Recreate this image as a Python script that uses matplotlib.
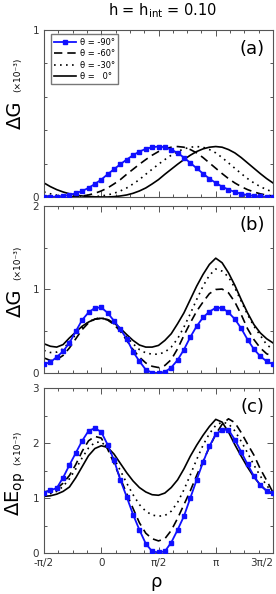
import numpy as np
import matplotlib
matplotlib.use("Agg")
import matplotlib.pyplot as plt
from matplotlib.ticker import FixedLocator, MultipleLocator

# rho grid, 10 degree steps from -pi/2 to 3pi/2
rho_deg = np.arange(-90, 271, 10)
rho = np.deg2rad(rho_deg)

xtick_pos = [-np.pi / 2, 0, np.pi / 2, np.pi, 3 * np.pi / 2]
xtick_labels = ["-π/2", "0", "π/2", "π", "3π/2"]

theta_labels = ["θ = -90°", "θ = -60°", "θ = -30°", "θ =   0°"]

# (a) dG, x10^-3
a_m90 = [0.0, 0.0, 0.002, 0.006, 0.012, 0.022, 0.036, 0.054, 0.078, 0.104, 0.136, 0.166, 0.196,
         0.224, 0.25, 0.272, 0.288, 0.298, 0.302, 0.298, 0.284, 0.264, 0.236, 0.204, 0.172, 0.14,
         0.11, 0.084, 0.062, 0.044, 0.03, 0.019, 0.011, 0.006, 0.003, 0.001, 0.0]
a_m60 = [0.006, 0.003, 0.001, 0.0, 0.0, 0.002, 0.006, 0.012, 0.022, 0.036, 0.054, 0.078, 0.104,
         0.136, 0.166, 0.196, 0.224, 0.25, 0.272, 0.288, 0.298, 0.302, 0.298, 0.284, 0.264, 0.236,
         0.204, 0.172, 0.14, 0.11, 0.084, 0.062, 0.044, 0.03, 0.019, 0.011, 0.006]
a_m30 = [0.03, 0.019, 0.011, 0.006, 0.003, 0.001, 0.0, 0.0, 0.002, 0.006, 0.012, 0.022, 0.036,
         0.054, 0.078, 0.104, 0.136, 0.166, 0.196, 0.224, 0.25, 0.272, 0.288, 0.298, 0.302, 0.298,
         0.284, 0.264, 0.236, 0.204, 0.172, 0.14, 0.11, 0.084, 0.062, 0.044, 0.03]
a_0 = [0.084, 0.062, 0.044, 0.03, 0.019, 0.011, 0.006, 0.003, 0.001, 0.0, 0.0, 0.002, 0.006,
       0.012, 0.022, 0.036, 0.054, 0.078, 0.104, 0.136, 0.166, 0.196, 0.224, 0.25, 0.272, 0.288,
       0.298, 0.302, 0.298, 0.284, 0.264, 0.236, 0.204, 0.172, 0.14, 0.11, 0.084]

# (b) dG, x10^-3
b_m90 = [0.105, 0.13, 0.19, 0.26, 0.36, 0.50, 0.635, 0.725, 0.78, 0.785, 0.72, 0.625, 0.525,
         0.41, 0.255, 0.14, 0.04, 0.003, 0.0, 0.012, 0.065, 0.155, 0.28, 0.43, 0.56, 0.665,
         0.735, 0.78, 0.78, 0.725, 0.645, 0.535, 0.40, 0.285, 0.20, 0.14, 0.105]
b_m60 = [0.18, 0.15, 0.16, 0.21, 0.30, 0.41, 0.52, 0.60, 0.645, 0.655, 0.635, 0.58, 0.50,
         0.39, 0.28, 0.19, 0.12, 0.08, 0.065, 0.09, 0.16, 0.29, 0.45, 0.60, 0.74, 0.85,
         0.95, 1.0, 1.005, 0.96, 0.85, 0.70, 0.53, 0.40, 0.30, 0.23, 0.20]
b_m30 = [0.27, 0.245, 0.25, 0.29, 0.37, 0.46, 0.545, 0.61, 0.65, 0.66, 0.64, 0.59, 0.515,
         0.43, 0.35, 0.28, 0.24, 0.225, 0.225, 0.25, 0.31, 0.41, 0.55, 0.71, 0.88, 1.04,
         1.17, 1.245, 1.22, 1.15, 1.02, 0.86, 0.70, 0.56, 0.45, 0.34, 0.28]
b_0 = [0.35, 0.32, 0.31, 0.34, 0.42, 0.49, 0.56, 0.61, 0.645, 0.655, 0.64, 0.60, 0.535,
       0.46, 0.39, 0.335, 0.31, 0.31, 0.33, 0.39, 0.47, 0.59, 0.72, 0.88, 1.04, 1.18,
       1.30, 1.375, 1.32, 1.20, 1.05, 0.88, 0.72, 0.58, 0.48, 0.41, 0.36]

# (c) dE_op, x10^-3
c_m90 = [1.10, 1.14, 1.18, 1.37, 1.60, 1.82, 2.04, 2.22, 2.27, 2.20, 1.97, 1.69, 1.33,
         1.02, 0.70, 0.42, 0.17, 0.03, 0.01, 0.03, 0.19, 0.42, 0.67, 1.00, 1.33, 1.65,
         1.94, 2.16, 2.24, 2.24, 2.06, 1.84, 1.61, 1.40, 1.23, 1.13, 1.09]
c_m60 = [1.11, 1.13, 1.17, 1.27, 1.41, 1.61, 1.85, 2.04, 2.12, 2.09, 1.89, 1.63, 1.36,
         1.08, 0.81, 0.55, 0.36, 0.26, 0.22, 0.26, 0.41, 0.63, 0.88, 1.13, 1.41, 1.67,
         1.92, 2.16, 2.34, 2.44, 2.37, 2.19, 1.98, 1.78, 1.53, 1.32, 1.10]
c_m30 = [1.07, 1.08, 1.12, 1.21, 1.35, 1.53, 1.73, 1.91, 2.01, 2.02, 1.91, 1.72, 1.50,
         1.27, 1.06, 0.88, 0.76, 0.69, 0.67, 0.68, 0.76, 0.92, 1.15, 1.42, 1.70, 1.96,
         2.17, 2.32, 2.38, 2.35, 2.22, 2.03, 1.82, 1.60, 1.40, 1.23, 1.09]
c_0 = [1.03, 1.04, 1.07, 1.12, 1.20, 1.37, 1.57, 1.77, 1.90, 1.95, 1.92, 1.80, 1.63,
       1.46, 1.31, 1.19, 1.11, 1.06, 1.05, 1.09, 1.19, 1.33, 1.53, 1.76, 1.96, 2.14,
       2.30, 2.43, 2.38, 2.20, 1.97, 1.76, 1.56, 1.38, 1.24, 1.13, 1.07]

GRAY = "#555555"
BLUE = "#1010ff"


def draw_panel(ax, m90, m60, m30, z0, ymax, yminor, tag):
    ax.plot(rho, z0, color="black", lw=1.2, label=theta_labels[3], zorder=2)
    ax.plot(rho, m30, color="black", lw=1.2, ls=(0, (1, 2.6)), label=theta_labels[2], zorder=2)
    ax.plot(rho, m60, color="black", lw=1.2, ls=(0, (5, 3)), label=theta_labels[1], zorder=2)
    ax.plot(rho, m90, color=BLUE, lw=1.3, marker="s", ms=3.2, label=theta_labels[0], zorder=3)

    ax.set_xlim(-np.pi / 2, 3 * np.pi / 2)
    ax.set_ylim(0, ymax)
    ax.xaxis.set_major_locator(FixedLocator(xtick_pos))
    ax.xaxis.set_minor_locator(MultipleLocator(np.pi / 8))
    ax.yaxis.set_major_locator(MultipleLocator(1))
    ax.yaxis.set_minor_locator(MultipleLocator(yminor))
    ax.tick_params(which="both", direction="in", top=True, right=True,
                   color=GRAY, labelsize=7.5, labelcolor="#333333", width=0.7)
    ax.tick_params(which="major", length=4)
    ax.tick_params(which="minor", length=2.5)
    for s in ax.spines.values():
        s.set_color(GRAY)
        s.set_linewidth(0.8)
    ax.text(0.91, 0.885, tag, transform=ax.transAxes, ha="center", va="center", fontsize=13)


fig = plt.figure(figsize=(2.76, 5.94), dpi=100)
left, width = 44 / 276, 229 / 276
ax_a = fig.add_axes([left, 0.6684, width, 0.2811])
ax_b = fig.add_axes([left, 0.3721, width, 0.2811])
ax_c = fig.add_axes([left, 0.0690, width, 0.2778])

draw_panel(ax_a, a_m90, a_m60, a_m30, a_0, 1, 0.2, "(a)")
draw_panel(ax_b, b_m90, b_m60, b_m30, b_0, 2, 0.5, "(b)")
draw_panel(ax_c, c_m90, c_m60, c_m30, c_0, 3, 0.5, "(c)")

for ax in (ax_a, ax_b):
    ax.tick_params(labelbottom=False)
ax_c.set_xticklabels(xtick_labels)
ax_c.get_xticklabels()[-1].set_horizontalalignment("right")

# legend, order -90, -60, -30, 0
h, l = ax_a.get_legend_handles_labels()
order = [3, 2, 1, 0]
ax_a.legend([h[i] for i in order], [l[i] for i in order], loc="upper left",
            bbox_to_anchor=(0.03, 0.975), fontsize=6, frameon=True, fancybox=False,
            edgecolor=GRAY, handlelength=2.6, borderpad=0.4, labelspacing=0.3,
            handletextpad=0.5, borderaxespad=0.0)

# y labels
ax_a.text(-0.125, 0.49, "ΔG", transform=ax_a.transAxes, rotation=90, ha="center", va="center", fontsize=14)
ax_a.text(-0.115, 0.73, "(×10⁻³)", transform=ax_a.transAxes, rotation=90, ha="center", va="center", fontsize=6.5)
ax_b.text(-0.125, 0.42, "ΔG", transform=ax_b.transAxes, rotation=90, ha="center", va="center", fontsize=14)
ax_b.text(-0.115, 0.66, "(×10⁻³)", transform=ax_b.transAxes, rotation=90, ha="center", va="center", fontsize=6.5)
ax_c.text(-0.125, 0.36, r"ΔE$_{\rm op}$", transform=ax_c.transAxes, rotation=90, ha="center", va="center", fontsize=14)
ax_c.text(-0.115, 0.64, "(×10⁻³)", transform=ax_c.transAxes, rotation=90, ha="center", va="center", fontsize=6.5)

fig.text(0.59, 0.982, r"h = h$_{\rm int}$ = 0.10", ha="center", va="center", fontsize=10.5)
fig.text(0.565, 1 - 582 / 594, "ρ", ha="center", va="center", fontsize=13)

fig.savefig("out.png", dpi=100)
